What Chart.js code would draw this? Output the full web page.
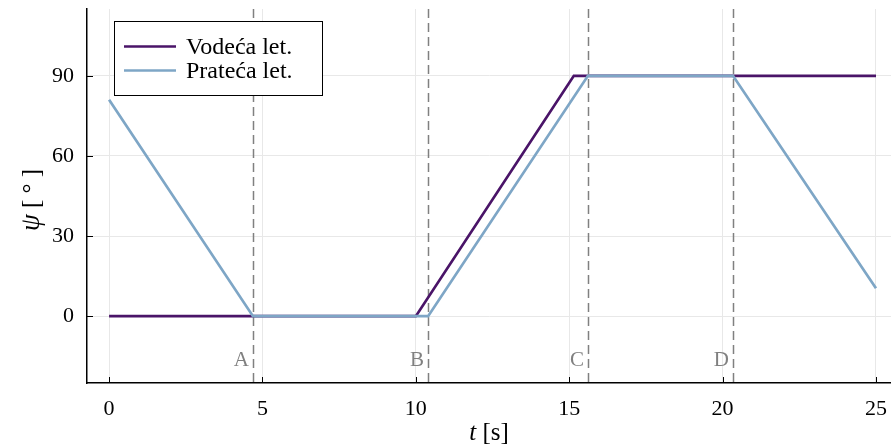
<!DOCTYPE html>
<html>
<head>
<meta charset="utf-8">
<script src="https://cdn.jsdelivr.net/npm/chart.js@4"></script>
<style>
  html, body { margin: 0; padding: 0; background: #fff; }
  #wrap { width: 891px; height: 447px; }
</style>
</head>
<body>
<div id="wrap"><canvas id="myChart"></canvas></div>
<script>
// vrijeme [s] i kut psi [deg] za obje letjelice
const vodecaT = [0, 10.0, 15.15, 25];
const vodecaPsi = [0, 0, 90, 90];
const pratecaT = [0, 4.69, 10.40, 15.61, 20.34, 25];
const pratecaPsi = [81, 0, 0, 90, 90, 10.5];
const seriesNames = ['Vodeća let.', 'Prateća let.'];

// trenuci oznaceni isprekidanim linijama
const markerT = [4.69, 10.40, 15.61, 20.34];
const markerNames = ['A', 'B', 'C', 'D'];

const xTicks = [0, 5, 10, 15, 20, 25];
const yTicks = [0, 30, 60, 90];

const FONT = "'Liberation Serif', serif";

function toPoints(xs, ys) {
    return xs.map((x, i) => ({ x: x, y: ys[i] }));
}

const extras = {
    id: 'extras',
    beforeDatasetsDraw(chart) {
        const ctx = chart.ctx;
        const area = chart.chartArea;
        const xs = chart.scales.x;
        ctx.save();
        // isprekidane linije
        ctx.strokeStyle = '#808080';
        ctx.lineWidth = 1.5;
        ctx.setLineDash([9, 5]);
        markerT.forEach(t => {
            const px = Math.round(xs.getPixelForValue(t)) + 0.5;
            ctx.beginPath();
            ctx.moveTo(px, area.top);
            ctx.lineTo(px, area.bottom);
            ctx.stroke();
        });
        ctx.setLineDash([]);
        // oznake A-D
        ctx.fillStyle = '#808080';
        ctx.font = '21px ' + FONT;
        ctx.textAlign = 'right';
        ctx.textBaseline = 'alphabetic';
        const ys = chart.scales.y;
        markerT.forEach((t, i) => {
            ctx.fillText(markerNames[i], xs.getPixelForValue(t) - 4, ys.getPixelForValue(-15) + 10);
        });
        ctx.restore();
    },
    afterDraw(chart) {
        const ctx = chart.ctx;
        const area = chart.chartArea;
        const xs = chart.scales.x;
        const ys = chart.scales.y;
        ctx.save();
        // kratke crtice prema unutra
        ctx.strokeStyle = '#000';
        ctx.lineWidth = 1;
        xTicks.forEach(v => {
            const px = Math.round(xs.getPixelForValue(v)) + 0.5;
            ctx.beginPath();
            ctx.moveTo(px, area.bottom);
            ctx.lineTo(px, area.bottom - 6);
            ctx.stroke();
        });
        yTicks.forEach(v => {
            const py = Math.round(ys.getPixelForValue(v)) + 0.5;
            ctx.beginPath();
            ctx.moveTo(area.left, py);
            ctx.lineTo(area.left + 6, py);
            ctx.stroke();
        });

        // legenda
        const lx = 114.5, ly = 21.5, lw = 208, lh = 74;
        ctx.fillStyle = '#fff';
        ctx.fillRect(lx, ly, lw, lh);
        ctx.strokeStyle = '#000';
        ctx.lineWidth = 1;
        ctx.strokeRect(lx, ly, lw, lh);
        chart.data.datasets.forEach((ds, i) => {
            const yy = ly + 25 + i * 24;
            ctx.strokeStyle = ds.borderColor;
            ctx.lineWidth = 2.5;
            ctx.beginPath();
            ctx.moveTo(124, yy);
            ctx.lineTo(176, yy);
            ctx.stroke();
            ctx.fillStyle = '#000';
            ctx.font = '24px ' + FONT;
            ctx.textAlign = 'left';
            ctx.textBaseline = 'middle';
            ctx.fillText(ds.label, 186, yy + 1);
        });

        // naslovi osi
        ctx.fillStyle = '#000';
        ctx.textBaseline = 'alphabetic';
        const cx = (area.left + area.right) / 2;
        ctx.font = 'italic 25px ' + FONT;
        const tW = ctx.measureText('t').width;
        ctx.font = '25px ' + FONT;
        const sW = ctx.measureText(' [s]').width;
        let sx = cx - (tW + sW) / 2;
        ctx.font = 'italic 25px ' + FONT;
        ctx.textAlign = 'left';
        ctx.fillText('t', sx, 440);
        ctx.font = '25px ' + FONT;
        ctx.fillText(' [s]', sx + tW, 440);

        ctx.translate(39, (area.top + area.bottom) / 2 + 4);
        ctx.rotate(-Math.PI / 2);
        ctx.font = 'italic 27px ' + FONT;
        const pW = ctx.measureText('ψ').width;
        ctx.font = '25px ' + FONT;
        const dW = ctx.measureText(' [ ° ]').width;
        sx = -(pW + dW) / 2;
        ctx.font = 'italic 27px ' + FONT;
        ctx.fillText('ψ', sx, 0);
        ctx.font = '25px ' + FONT;
        ctx.fillText(' [ ° ]', sx + pW, 0);
        ctx.restore();
    }
};

var ctx = document.getElementById('myChart').getContext('2d');
var myChart = new Chart(ctx, {
    type: 'line',
    data: {
        datasets: [{
            label: seriesNames[0],
            data: toPoints(vodecaT, vodecaPsi),
            borderColor: '#4a1468',
            borderWidth: 2.7,
            pointRadius: 0,
            tension: 0,
            order: 1
        }, {
            label: seriesNames[1],
            data: toPoints(pratecaT, pratecaPsi),
            borderColor: '#7ea6c6',
            borderWidth: 2.7,
            pointRadius: 0,
            tension: 0,
            order: 0
        }]
    },
    options: {
        responsive: true,
        maintainAspectRatio: false,
        animation: false,
        layout: { padding: { top: 9, right: 0, left: 0, bottom: 0 } },
        plugins: {
            legend: { display: false },
            tooltip: { enabled: false }
        },
        scales: {
            x: {
                type: 'linear',
                min: -0.72,
                max: 25.49,
                afterBuildTicks: s => { s.ticks = xTicks.map(v => ({ value: v })); },
                afterFit: s => { s.height = 64; s.paddingLeft = 0; s.paddingRight = 0; },
                grid: { color: '#e8e8e8', lineWidth: 1, drawTicks: false },
                border: { color: '#000', width: 1.5 },
                ticks: {
                    color: '#000',
                    font: { family: FONT, size: 22 },
                    padding: 13,
                    maxRotation: 0
                }
            },
            y: {
                type: 'linear',
                min: -25,
                max: 115,
                afterBuildTicks: s => { s.ticks = yTicks.map(v => ({ value: v })); },
                afterFit: s => { s.width = 87; s.paddingTop = 0; s.paddingBottom = 0; },
                grid: { color: '#e8e8e8', lineWidth: 1, drawTicks: false },
                border: { color: '#000', width: 1.5 },
                ticks: {
                    color: '#000',
                    font: { family: FONT, size: 22 },
                    padding: 13
                }
            }
        }
    },
    plugins: [extras]
});
</script>
</body>
</html>
